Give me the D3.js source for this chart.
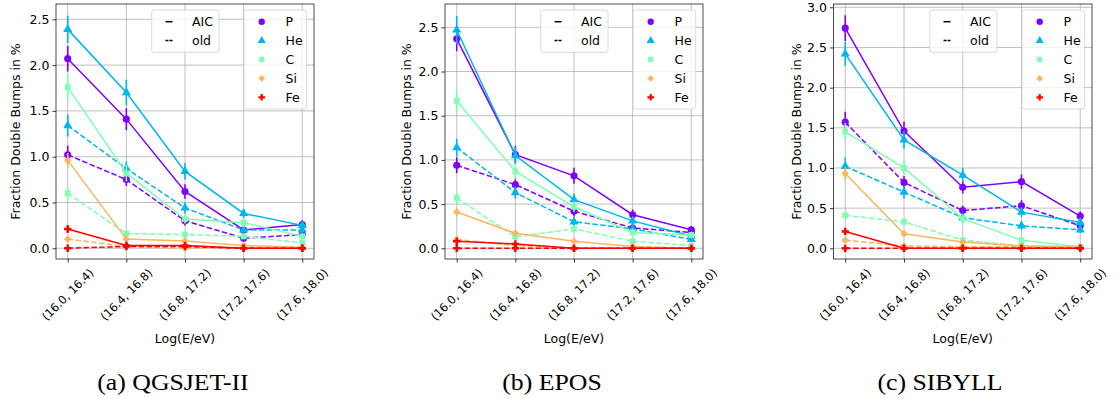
<!DOCTYPE html>
<html>
<head>
<meta charset="utf-8">
<script src="https://cdn.jsdelivr.net/npm/d3@7"></script>
<style>
  body { margin: 0; background: #fff; }
  svg text { font-family: "DejaVu Sans", sans-serif; fill: #000; }
  svg text.caption { font-family: "Liberation Serif", "DejaVu Serif", serif; }
</style>
</head>
<body>
<div id="container"></div>
<script>
// energy bins (x categories)
const bins = ['(16.0, 16.4)', '(16.4, 16.8)', '(16.8, 17.2)', '(17.2, 17.6)', '(17.6, 18.0)'];
const species = ['P', 'He', 'C', 'Si', 'Fe'];
const styles = ['AIC', 'old'];
const captions = ['(a) QGSJET-II', '(b) EPOS', '(c) SIBYLL'];

// rows: P, He, C, Si, Fe
const qgsjetAIC = [
  [2.07, 1.41, 0.62, 0.20, 0.26],
  [2.39, 1.70, 0.84, 0.38, 0.25],
  [1.76, 0.82, 0.32, 0.28, 0.13],
  [0.96, 0.10, 0.08, 0.03, 0.01],
  [0.21, 0.03, 0.03, 0.00, 0.00],
];
const qgsjetAICErr = [
  [0.14, 0.12, 0.08, 0.04, 0.05],
  [0.15, 0.14, 0.09, 0.05, 0.05],
  [0.14, 0.09, 0.05, 0.05, 0.03],
  [0.08, 0.03, 0.02, 0.01, 0.01],
  [0.04, 0.01, 0.01, 0.005, 0.005],
];
const qgsjetOld = [
  [1.02, 0.75, 0.30, 0.11, 0.15],
  [1.34, 0.87, 0.44, 0.20, 0.20],
  [0.60, 0.16, 0.15, 0.13, 0.06],
  [0.10, 0.02, 0.00, 0.01, 0.00],
  [0.00, 0.02, 0.02, 0.00, 0.00],
];
const qgsjetOldErr = [
  [0.10, 0.07, 0.05, 0.03, 0.04],
  [0.12, 0.08, 0.06, 0.04, 0.04],
  [0.07, 0.03, 0.03, 0.03, 0.02],
  [0.03, 0.01, 0.01, 0.01, 0.005],
  [0.005, 0.01, 0.01, 0.005, 0.005],
];

const eposAIC = [
  [2.37, 1.06, 0.82, 0.38, 0.21],
  [2.47, 1.05, 0.55, 0.31, 0.14],
  [1.67, 0.87, 0.47, 0.18, 0.15],
  [0.41, 0.17, 0.08, 0.02, 0.00],
  [0.08, 0.05, 0.00, 0.00, 0.00],
];
const eposAICErr = [
  [0.14, 0.10, 0.09, 0.06, 0.04],
  [0.16, 0.10, 0.07, 0.05, 0.03],
  [0.13, 0.09, 0.06, 0.04, 0.03],
  [0.05, 0.03, 0.02, 0.01, 0.005],
  [0.02, 0.02, 0.005, 0.005, 0.005],
];
const eposOld = [
  [0.94, 0.72, 0.42, 0.23, 0.18],
  [1.14, 0.63, 0.30, 0.22, 0.10],
  [0.57, 0.13, 0.22, 0.08, 0.03],
  [0.10, 0.03, 0.00, 0.00, 0.00],
  [0.00, 0.00, 0.00, 0.00, 0.00],
];
const eposOldErr = [
  [0.09, 0.07, 0.06, 0.04, 0.04],
  [0.10, 0.07, 0.05, 0.04, 0.03],
  [0.07, 0.03, 0.04, 0.02, 0.01],
  [0.03, 0.01, 0.005, 0.005, 0.005],
  [0.005, 0.005, 0.005, 0.005, 0.005],
];

const sibyllAIC = [
  [2.74, 1.46, 0.76, 0.83, 0.40],
  [2.42, 1.35, 0.91, 0.45, 0.32],
  [1.45, 1.00, 0.37, 0.10, 0.02],
  [0.93, 0.18, 0.08, 0.03, 0.02],
  [0.21, 0.00, 0.00, 0.00, 0.00],
];
const sibyllAICErr = [
  [0.16, 0.12, 0.08, 0.09, 0.06],
  [0.15, 0.11, 0.09, 0.06, 0.05],
  [0.11, 0.09, 0.05, 0.03, 0.01],
  [0.08, 0.04, 0.02, 0.01, 0.01],
  [0.04, 0.005, 0.005, 0.005, 0.005],
];
const sibyllOld = [
  [1.57, 0.82, 0.47, 0.53, 0.28],
  [1.02, 0.70, 0.38, 0.28, 0.23],
  [0.41, 0.33, 0.10, 0.03, 0.02],
  [0.10, 0.03, 0.02, 0.02, 0.01],
  [0.00, 0.00, 0.00, 0.00, 0.00],
];
const sibyllOldErr = [
  [0.13, 0.08, 0.06, 0.07, 0.05],
  [0.11, 0.08, 0.06, 0.05, 0.04],
  [0.05, 0.05, 0.03, 0.01, 0.01],
  [0.03, 0.01, 0.01, 0.01, 0.005],
  [0.005, 0.005, 0.005, 0.005, 0.005],
];

const yTicksA = [0, 0.5, 1.0, 1.5, 2.0, 2.5];
const yTicksC = [0, 0.5, 1.0, 1.5, 2.0, 2.5, 3.0];

// rainbow colormap, 5 samples
const colors = species.map((_, i) => {
  const x = i / (species.length - 1);
  const r = Math.min(1, Math.abs(2 * x - 0.5));
  const g = Math.sin(Math.PI * x);
  const b = Math.cos(Math.PI * x / 2);
  return d3.rgb(r * 255, g * 255, b * 255).formatHex();
});
const symbols = [
  { type: d3.symbolCircle, size: 40, rot: 0 },
  { type: d3.symbolTriangle, size: 36, rot: 0 },
  { type: d3.symbolSquare, size: 34, rot: 0 },
  { type: d3.symbolSquare, size: 28, rot: 45 },
  { type: d3.symbolCross, size: 30, rot: 0 },
];

const W = 1117, H = 399;
const yTop = 4, yBottom = 259;
const fs = 12.5;   // tick / axis / legend text
const fsX = 11.5;  // rotated bin labels

const panels = [
  { left: 56, right: 314, ydom: [-0.117, 2.667], ticks: yTicksA, aic: qgsjetAIC, aicErr: qgsjetAICErr, old: qgsjetOld, oldErr: qgsjetOldErr, ylab: 41, cap: 173 },
  { left: 445, right: 703, ydom: [-0.121, 2.764], ticks: yTicksA, aic: eposAIC, aicErr: eposAICErr, old: eposOld, oldErr: eposOldErr, ylab: 38.5, cap: 552 },
  { left: 833.5, right: 1092, ydom: [-0.133, 3.041], ticks: yTicksC, aic: sibyllAIC, aicErr: sibyllAICErr, old: sibyllOld, oldErr: sibyllOldErr, ylab: 37.5, cap: 940 },
];

const svg = d3.select('#container').append('svg')
  .attr('width', W).attr('height', H);

panels.forEach((p, k) => {
  const x = d3.scaleLinear().domain([-0.2, bins.length - 0.8]).range([p.left, p.right]);
  const y = d3.scaleLinear().domain(p.ydom).range([yBottom, yTop]);
  const g = svg.append('g');

  // grid
  g.append('g').selectAll('line').data(bins).join('line')
    .attr('x1', (d, i) => x(i)).attr('x2', (d, i) => x(i))
    .attr('y1', yTop).attr('y2', yBottom)
    .attr('stroke', '#b0b0b0').attr('stroke-width', 0.8);
  g.append('g').selectAll('line').data(p.ticks).join('line')
    .attr('x1', p.left).attr('x2', p.right)
    .attr('y1', d => y(d)).attr('y2', d => y(d))
    .attr('stroke', '#b0b0b0').attr('stroke-width', 0.8);

  // axes
  const yAxis = g.append('g').attr('transform', `translate(${p.left},0)`)
    .call(d3.axisLeft(y).tickValues(p.ticks).tickFormat(d3.format('.1f')).tickSize(3.5).tickPadding(3));
  const xAxis = g.append('g').attr('transform', `translate(0,${yBottom})`)
    .call(d3.axisBottom(x).tickValues(d3.range(bins.length)).tickFormat('').tickSize(3.5));
  [yAxis, xAxis].forEach(a => {
    a.select('.domain').remove();
    a.selectAll('.tick line').attr('stroke', '#000').attr('stroke-width', 0.8);
    a.selectAll('.tick text').attr('font-size', fs).attr('font-family', 'DejaVu Sans').attr('fill', '#000');
  });

  // rotated x tick labels, bbox centred on tick
  bins.forEach((b, i) => {
    const t = g.append('text').attr('font-size', fsX)
      .attr('text-anchor', 'middle').attr('dominant-baseline', 'central').text(b);
    const w = t.node().getComputedTextLength();
    const side = (w + fsX * 1.16) / Math.SQRT2;
    t.attr('transform', `translate(${x(i)},${yBottom + 7 + side / 2}) rotate(-45)`);
  });

  // data
  const plot = g.append('g');
  const sets = [
    { vals: p.aic, errs: p.aicErr, dash: null },
    { vals: p.old, errs: p.oldErr, dash: '5.5,2.4' },
  ];
  species.forEach((s, si) => {
    sets.forEach(set => {
      const vals = set.vals[si], errs = set.errs[si];
      plot.append('path').datum(vals)
        .attr('fill', 'none').attr('stroke', colors[si]).attr('stroke-width', 1.5)
        .attr('stroke-dasharray', set.dash)
        .attr('d', d3.line().x((d, i) => x(i)).y(d => y(d)));
      plot.append('g').selectAll('line').data(vals).join('line')
        .attr('x1', (d, i) => x(i)).attr('x2', (d, i) => x(i))
        .attr('y1', (d, i) => y(d - errs[i])).attr('y2', (d, i) => y(d + errs[i]))
        .attr('stroke', colors[si]).attr('stroke-width', 1.6);
      plot.append('g').selectAll('path').data(vals).join('path')
        .attr('d', d3.symbol(symbols[si].type, symbols[si].size))
        .attr('transform', (d, i) => `translate(${x(i)},${y(d)}) rotate(${symbols[si].rot})`)
        .attr('fill', colors[si]);
    });
  });

  // frame
  g.append('rect').attr('x', p.left).attr('y', yTop)
    .attr('width', p.right - p.left).attr('height', yBottom - yTop)
    .attr('fill', 'none').attr('stroke', '#222').attr('stroke-width', 0.8);

  // labels
  g.append('text').attr('font-size', fs).attr('text-anchor', 'middle')
    .attr('transform', `translate(${p.left - p.ylab},${(yTop + yBottom) / 2}) rotate(-90)`)
    .attr('dominant-baseline', 'central')
    .text('Fraction Double Bumps in %');
  g.append('text').attr('font-size', fs).attr('text-anchor', 'middle')
    .attr('x', (p.left + p.right) / 2).attr('y', 338).attr('dominant-baseline', 'central')
    .text('Log(E/eV)');
  const cap = g.append('text').attr('class', 'caption').attr('font-size', 23).attr('text-anchor', 'middle')
    .attr('x', p.cap).attr('y', 382).attr('dominant-baseline', 'central')
    .text(captions[k]);
  // the reference face (Computer Modern) is wider than Times: stretch a little
  cap.attr('textLength', cap.node().getComputedTextLength() * 1.12).attr('lengthAdjust', 'spacingAndGlyphs');

  // legend: line styles
  const rowY = i => 21.7 + i * 18.9;
  const l1 = g.append('g');
  l1.append('rect').attr('x', p.right - 162.3).attr('y', 10).attr('width', 67.3).attr('height', 42.3)
    .attr('rx', 2.5).attr('fill', 'rgba(255,255,255,0.8)').attr('stroke', '#d0d0d0').attr('stroke-width', 0.8);
  styles.forEach((s, i) => {
    l1.append('line').attr('x1', p.right - 148.5).attr('x2', p.right - 141.5)
      .attr('y1', rowY(i)).attr('y2', rowY(i))
      .attr('stroke', '#000').attr('stroke-width', 1.5)
      .attr('stroke-dasharray', i === 0 ? null : '3,1');
    l1.append('text').attr('font-size', fs).attr('x', p.right - 122).attr('y', rowY(i))
      .attr('dominant-baseline', 'central').text(s);
  });

  // legend: species
  const l2 = g.append('g');
  l2.append('rect').attr('x', p.right - 70).attr('y', 10).attr('width', 62.7).attr('height', 99)
    .attr('rx', 2.5).attr('fill', 'rgba(255,255,255,0.8)').attr('stroke', '#d0d0d0').attr('stroke-width', 0.8);
  species.forEach((s, i) => {
    l2.append('path')
      .attr('d', d3.symbol(symbols[i].type, symbols[i].size * 0.8))
      .attr('transform', `translate(${p.right - 52.3},${rowY(i)}) rotate(${symbols[i].rot})`)
      .attr('fill', colors[i]);
    l2.append('text').attr('font-size', fs).attr('x', p.right - 28.5).attr('y', rowY(i))
      .attr('dominant-baseline', 'central').text(s);
  });
});
</script>
</body>
</html>
